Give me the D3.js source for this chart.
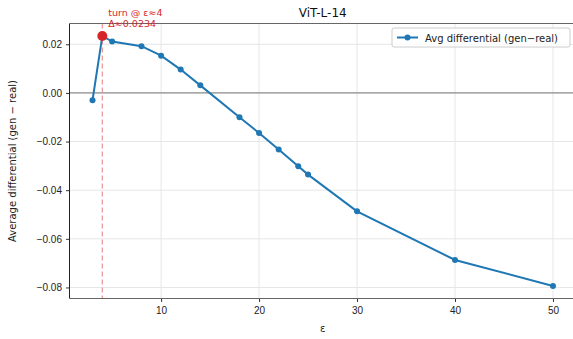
<!DOCTYPE html>
<html lang="en">
<head>
<meta charset="UTF-8">
<title>ViT-L-14</title>
<script src="https://cdn.jsdelivr.net/npm/d3@7"></script>
<style>
  body { margin: 0; background: #fff; }
  svg { font-family: "DejaVu Sans", sans-serif; }
  .tick text { font-size: 10px; fill: #222; }
</style>
</head>
<body>
<svg id="chart" width="573" height="339"></svg>
<script>
// data
const epsilons = [3, 4, 5, 8, 10, 12, 14, 18, 20, 22, 24, 25, 30, 40, 50];
const differentials = [-0.0030, 0.0234, 0.0211, 0.0192, 0.0153, 0.0096, 0.0031,
  -0.0100, -0.0165, -0.0233, -0.0302, -0.0336, -0.0487, -0.0687, -0.0794];
const xTicks = [10, 20, 30, 40, 50];
const yTicks = [0.02, 0.00, -0.02, -0.04, -0.06, -0.08];
const turnEps = 4, turnVal = 0.0234;

const svg = d3.select('#chart');
const m = {left: 69.5, right: 576, top: 23.5, bottom: 298.5};
const blue = '#1f77b4';

// matplotlib-like 5% margins
const xr = d3.extent(epsilons), yr = d3.extent(differentials);
const xPad = (xr[1] - xr[0]) * 0.05, yPad = (yr[1] - yr[0]) * 0.05;
const x = d3.scaleLinear().domain([xr[0] - xPad, xr[1] + xPad]).range([m.left, m.right]);
const y = d3.scaleLinear().domain([yr[0] - yPad, yr[1] + yPad]).range([m.bottom, m.top]);

// grid
svg.append('g').selectAll('line').data(xTicks).enter().append('line')
  .attr('x1', d => x(d)).attr('x2', d => x(d))
  .attr('y1', m.top).attr('y2', m.bottom)
  .attr('stroke', '#e6e6e6').attr('stroke-width', 1);
svg.append('g').selectAll('line').data(yTicks).enter().append('line')
  .attr('x1', m.left).attr('x2', m.right)
  .attr('y1', d => y(d)).attr('y2', d => y(d))
  .attr('stroke', '#e6e6e6').attr('stroke-width', 1);

// zero line
svg.append('line')
  .attr('x1', m.left).attr('x2', m.right)
  .attr('y1', y(0)).attr('y2', y(0))
  .attr('stroke', '#777').attr('stroke-width', 1);

// turn marker line
svg.append('line')
  .attr('x1', x(turnEps)).attr('x2', x(turnEps))
  .attr('y1', m.top).attr('y2', m.bottom)
  .attr('stroke', '#f19a9a').attr('stroke-width', 1.3)
  .attr('stroke-dasharray', '5,3');

// axes
const xAxis = svg.append('g')
  .attr('transform', 'translate(0,' + m.bottom + ')')
  .call(d3.axisBottom(x).tickValues(xTicks).tickSize(3.5).tickPadding(5).tickFormat(d3.format('d')));
xAxis.select('.domain').remove();
const yAxis = svg.append('g')
  .attr('transform', 'translate(' + m.left + ',0)')
  .call(d3.axisLeft(y).tickValues(yTicks).tickSize(3.5).tickPadding(4)
    .tickFormat(d => d3.format('.2f')(d).replace('-', '\u2212')));
yAxis.select('.domain').remove();
svg.selectAll('.tick line').attr('stroke', '#333');

// spines
svg.append('line').attr('x1', m.left).attr('x2', m.left).attr('y1', m.top).attr('y2', m.bottom)
  .attr('stroke', '#222').attr('stroke-width', 1);
svg.append('line').attr('x1', m.left).attr('x2', m.right).attr('y1', m.bottom).attr('y2', m.bottom)
  .attr('stroke', '#666').attr('stroke-width', 1);
svg.append('line').attr('x1', m.left).attr('x2', m.right).attr('y1', m.top).attr('y2', m.top)
  .attr('stroke', '#666').attr('stroke-width', 1);

// series
const pts = epsilons.map((e, i) => [e, differentials[i]]);
svg.append('path').datum(pts)
  .attr('d', d3.line().x(d => x(d[0])).y(d => y(d[1])))
  .attr('fill', 'none').attr('stroke', blue).attr('stroke-width', 2);
svg.append('g').selectAll('circle').data(pts).enter().append('circle')
  .attr('cx', d => x(d[0])).attr('cy', d => y(d[1])).attr('r', 3)
  .attr('fill', blue);

// turn point
svg.append('circle').attr('cx', x(turnEps)).attr('cy', y(turnVal)).attr('r', 5)
  .attr('fill', '#d62728');
svg.append('text').attr('x', x(turnEps) + 6).attr('y', 15.5)
  .attr('font-size', 9.5).attr('fill', '#d62728').text('turn @ \u03b5\u22484');
svg.append('text').attr('x', x(turnEps) + 6).attr('y', 26.5)
  .attr('font-size', 9.5).attr('fill', '#d62728').text('\u0394\u22480.0234');

// title and labels
svg.append('text').attr('x', (m.left + m.right) / 2).attr('y', 17)
  .attr('text-anchor', 'middle').attr('font-size', 12).attr('fill', '#111').text('ViT-L-14');
svg.append('text').attr('x', (m.left + m.right) / 2).attr('y', 332)
  .attr('text-anchor', 'middle').attr('font-size', 10).attr('fill', '#222').text('\u03b5');
svg.append('text')
  .attr('transform', 'translate(16,' + ((m.top + m.bottom) / 2) + ') rotate(-90)')
  .attr('text-anchor', 'middle').attr('font-size', 10).attr('fill', '#222')
  .text('Average differential (gen \u2212 real)');

// legend
const lg = svg.append('g').attr('transform', 'translate(392,28)');
lg.append('rect').attr('width', 178).attr('height', 19).attr('rx', 2)
  .attr('fill', '#fff').attr('fill-opacity', 0.8).attr('stroke', '#ccc');
lg.append('line').attr('x1', 5).attr('x2', 26).attr('y1', 9.5).attr('y2', 9.5)
  .attr('stroke', blue).attr('stroke-width', 2);
lg.append('circle').attr('cx', 15.5).attr('cy', 9.5).attr('r', 3).attr('fill', blue);
lg.append('text').attr('x', 33).attr('y', 13.5).attr('font-size', 10).attr('fill', '#222')
  .text('Avg differential (gen\u2212real)');
</script>
</body>
</html>
